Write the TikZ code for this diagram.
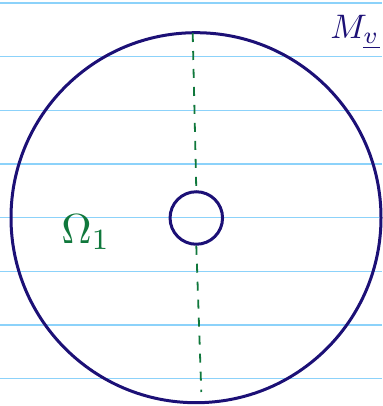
\documentclass[tikz,border=0pt]{standalone}
\usepackage{amsmath}
\definecolor{navy}{RGB}{28,16,118}
\definecolor{ink}{RGB}{16,120,60}
\definecolor{rule}{RGB}{140,210,250}
\begin{document}
\begin{tikzpicture}[x=1pt,y=-1pt,
  paperline/.style={rule,line width=1.3pt},
  ring/.style={draw=navy,line width=3pt,circle,inner sep=0pt},
  cut/.style={ink,line width=1.8pt,dash pattern=on 9pt off 9pt}]
\useasboundingbox (0,0) rectangle (382,406);
\foreach \yy in {3,56.7,110.3,164,217.7,271.3,325,378.7}
  \draw[paperline] (0,\yy) -- (382,\yy);
\node[ring,minimum size=370pt] (outer) at (196,217.7) {};
\node[ring,minimum size=52.5pt] (inner) at (196.3,218) {};
\coordinate (topend) at (192.7,33);
\coordinate (botend) at (201.3,392);
\draw[cut] (topend) -- (inner.north);
\draw[cut] (inner.south) -- (botend);
\node[ink,scale=4.2] (omega) at (86,232) {$\Omega_1$};
\node[navy,scale=3.4] (mv) at (355,32) {$M_{\underline{v}}$};
\end{tikzpicture}
\end{document}
